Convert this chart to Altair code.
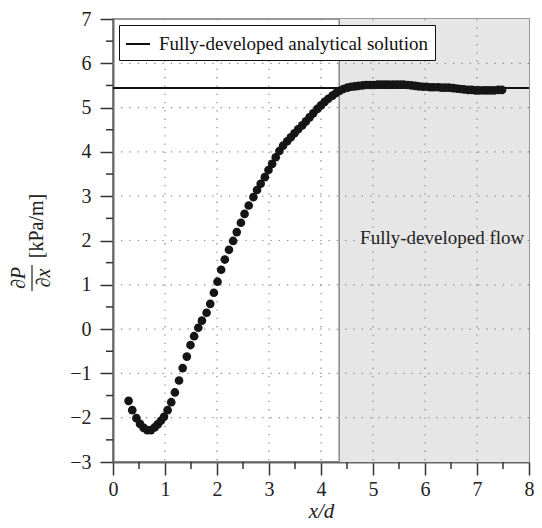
import altair as alt
import pandas as pd

# ---- data ----
xd = [0.30, 0.37, 0.45, 0.52, 0.59, 0.66, 0.73, 0.80, 0.86, 0.92,
      0.98, 1.05, 1.12, 1.19, 1.27, 1.34, 1.42, 1.49, 1.56, 1.64,
      1.71, 1.80, 1.87, 1.94, 2.01, 2.08, 2.15, 2.23, 2.31, 2.38,
      2.46, 2.53, 2.61, 2.70, 2.77, 2.84, 2.92, 2.99, 3.06, 3.13,
      3.20, 3.27, 3.35, 3.42, 3.49, 3.56, 3.64, 3.71, 3.78, 3.85,
      3.93, 4.00, 4.07, 4.14, 4.22, 4.29, 4.36, 4.43, 4.51, 4.58,
      4.65, 4.72, 4.80, 4.87, 4.94, 5.01, 5.09, 5.16, 5.23, 5.30,
      5.38, 5.45, 5.52, 5.59, 5.67, 5.74, 5.81, 5.88, 5.96, 6.03,
      6.10, 6.17, 6.25, 6.32, 6.39, 6.46, 6.54, 6.61, 6.68, 6.75,
      6.83, 6.90, 6.97, 7.04, 7.12, 7.19, 7.26, 7.33, 7.41, 7.48]
dpdx = [-1.62, -1.83, -2.01, -2.14, -2.23, -2.28, -2.28, -2.22, -2.15, -2.07,
        -1.98, -1.83, -1.65, -1.43, -1.16, -0.88, -0.62, -0.36, -0.16, 0.03,
        0.19, 0.37, 0.57, 0.82, 1.07, 1.34, 1.57, 1.79, 1.99, 2.19,
        2.40, 2.60, 2.79, 2.98, 3.14, 3.28, 3.43, 3.59, 3.73, 3.88,
        4.02, 4.14, 4.24, 4.33, 4.42, 4.51, 4.60, 4.69, 4.78, 4.87,
        4.97, 5.05, 5.13, 5.20, 5.27, 5.33, 5.38, 5.42, 5.45, 5.47,
        5.48, 5.49, 5.50, 5.51, 5.51, 5.51, 5.52, 5.52, 5.52, 5.52,
        5.52, 5.52, 5.52, 5.52, 5.51, 5.50, 5.49, 5.48, 5.47, 5.47,
        5.46, 5.46, 5.46, 5.45, 5.45, 5.45, 5.44, 5.43, 5.42, 5.41,
        5.40, 5.40, 5.39, 5.39, 5.39, 5.39, 5.39, 5.39, 5.40, 5.40]

analytic_value = [5.44]
analytic_label = ["Fully-developed analytical solution"]
region_start = [4.35]
region_end = [8.0]
region_label = ["Fully-developed flow"]
region_label_pos = [(6.33, 2.05)]

x_ticks = [0, 1, 2, 3, 4, 5, 6, 7, 8]
y_ticks = [-3, -2, -1, 0, 1, 2, 3, 4, 5, 6, 7]
x_grid = [1, 2, 3, 4, 5, 6, 7]
y_grid = [-2, -1, 0, 1, 2, 3, 4, 5, 6]
x_minor = [0.5, 1.5, 2.5, 3.5, 4.5, 5.5, 6.5, 7.5]
y_minor = [-2.5, -1.5, -0.5, 0.5, 1.5, 2.5, 3.5, 4.5, 5.5, 6.5]

W, H = 416, 443
FONT = "Liberation Serif, Times New Roman, DejaVu Serif, serif"

xs = alt.Scale(domain=[0, 8], nice=False, zero=False)
ys = alt.Scale(domain=[-3, 7], nice=False, zero=False)

xaxis = alt.Axis(values=x_ticks, grid=False, title="x/d", titleFont=FONT,
                 titleFontStyle="italic", titleFontWeight="normal", titleFontSize=21,
                 titleBaseline="alphabetic", titleY=55, labelFont=FONT,
                 labelFontSize=20, labelPadding=4, labelFlush=False)
yaxis = alt.Axis(values=y_ticks, grid=False, title=None, labelFont=FONT,
                 labelFontSize=20, labelPadding=9, labelFlush=False)


def X(field):
    return alt.X(field, scale=xs, axis=xaxis)


def Y(field):
    return alt.Y(field, scale=ys, axis=yaxis)


pts = pd.DataFrame({"x": xd, "y": dpdx})
region = pd.DataFrame({"x0": region_start, "x1": region_end})
line_df = pd.DataFrame({"y": analytic_value, "label": analytic_label})
gx = pd.DataFrame({"x": x_grid})
gy = pd.DataFrame({"y": y_grid})
mx = pd.DataFrame({"x": x_minor})
my = pd.DataFrame({"y": y_minor})
txt = pd.DataFrame({"x": [region_label_pos[0][0]], "y": [region_label_pos[0][1]],
                    "t": region_label})

shade = alt.Chart(region).mark_rect(fill="#e6e6e6").encode(
    x=X("x0:Q"), x2="x1:Q", y=alt.value(0), y2=alt.value(H))
edge = alt.Chart(region).mark_rule(color="#888", strokeWidth=1.5).encode(x=X("x0:Q"))
gridx = alt.Chart(gx).mark_rule(color="#8a8a8a", strokeWidth=1.2,
                                strokeDash=[1.3, 7]).encode(x=X("x:Q"))
gridy = alt.Chart(gy).mark_rule(color="#8a8a8a", strokeWidth=1.2,
                                strokeDash=[1.3, 7]).encode(y=Y("y:Q"))
minx = alt.Chart(mx).mark_rule(color="#333", strokeWidth=1.5).encode(
    x=X("x:Q"), y=alt.value(H), y2=alt.value(H + 7))
miny = alt.Chart(my).mark_rule(color="#333", strokeWidth=1.5).encode(
    y=Y("y:Q"), x=alt.value(-7), x2=alt.value(0))

analytic = alt.Chart(line_df).mark_rule(strokeWidth=2).encode(
    y=Y("y:Q"),
    color=alt.Color("label:N",
                    scale=alt.Scale(domain=analytic_label, range=["#111111"]),
                    legend=alt.Legend(title=None, orient="top-left", symbolType="stroke",
                                      symbolSize=576, symbolStrokeWidth=2,
                                      labelFont=FONT, labelFontSize=19, labelColor="#111",
                                      strokeColor="#111", fillColor="white", padding=6,
                                      offset=6, labelOffset=8, labelLimit=400,
                                      symbolOffset=0)))

points = alt.Chart(pts).mark_circle(size=75, opacity=1, color="#151515").encode(
    x=X("x:Q"), y=Y("y:Q"))

region_text = alt.Chart(txt).mark_text(font=FONT, fontSize=19, color="#222").encode(
    x=X("x:Q"), y=Y("y:Q"), text="t:N")

# y-axis title drawn as a rotated fraction
ytitle_unit = alt.Chart(pd.DataFrame({"t": ["[kPa/m]"]})).mark_text(
    font=FONT, fontSize=20, angle=270, color="#222").encode(
    text="t:N", x=alt.value(-76), y=alt.value(207))
num = alt.Chart(pd.DataFrame({"t": ["∂P"]})).mark_text(
    font=FONT, fontSize=20, fontStyle="italic", angle=270, color="#222").encode(
    text="t:N", x=alt.value(-94), y=alt.value(259))
den = alt.Chart(pd.DataFrame({"t": ["∂x"]})).mark_text(
    font=FONT, fontSize=20, fontStyle="italic", angle=270, color="#222").encode(
    text="t:N", x=alt.value(-69), y=alt.value(259))
bar = alt.Chart(pd.DataFrame({"t": [1]})).mark_rule(color="#222", strokeWidth=1.2).encode(
    x=alt.value(-81), y=alt.value(246), y2=alt.value(272))

chart = alt.layer(
    shade, edge, gridx, gridy, minx, miny, analytic, points, region_text,
    ytitle_unit, num, den, bar
).properties(
    width=W, height=H,
    autosize=alt.AutoSizeParams(type="none"),
    padding={"left": 105, "top": 11, "right": 5, "bottom": 62},
).configure_view(
    stroke="#777", strokeWidth=1.5
).configure_axis(
    labelFont=FONT, titleFont=FONT, labelColor="#222", titleColor="#222",
    tickSize=13, tickColor="#333", tickWidth=1.5,
    domainColor="#666", domainWidth=2, grid=False, labelFlush=False
)

chart.save("out.html", embed_options={"renderer": "svg", "actions": False})
